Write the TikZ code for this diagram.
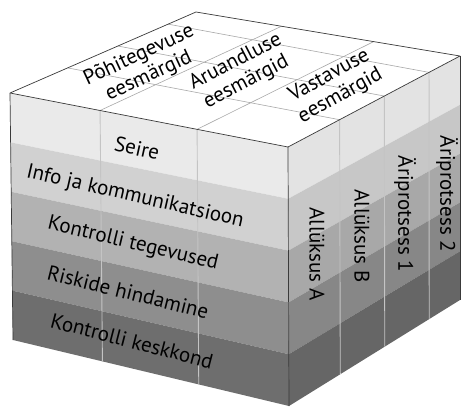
\documentclass[tikz,border=0pt]{standalone}
\usepackage{fontspec}
\setmainfont{PT Sans}
\usetikzlibrary{calc}

% band shades, lightest (top) to darkest (bottom)
\definecolor{fA}{HTML}{EAEAEA}
\definecolor{fB}{HTML}{D1D1D1}
\definecolor{fC}{HTML}{B2B2B2}
\definecolor{fD}{HTML}{8E8E8E}
\definecolor{fE}{HTML}{6E6E6E}
\definecolor{rA}{HTML}{E3E3E3}
\definecolor{rB}{HTML}{C7C7C7}
\definecolor{rC}{HTML}{A8A8A8}
\definecolor{rD}{HTML}{878787}
\definecolor{rE}{HTML}{666666}
\definecolor{edgecol}{HTML}{3A3A3A}
\definecolor{gridcol}{HTML}{A8A8A8}
\definecolor{divcol}{HTML}{C4C4C4}

\tikzset{
  cubeedge/.style={draw=edgecol, line width=0.7pt, line join=round},
  topgrid/.style={draw=gridcol, line width=0.6pt},
  facediv/.style={draw=divcol, line width=0.9pt},
  txt/.style={inner sep=0pt, font=\fontsize{21}{23}\selectfont, text=black},
  toptxt/.style={txt, align=center},
}

\begin{document}
\begin{tikzpicture}[x=1pt, y=-1pt]
\useasboundingbox (0,0) rectangle (461,407);

% cube corners
\coordinate (A) at (10,93);    % front top left
\coordinate (E) at (288,147);  % front top right
\coordinate (C) at (13,340);   % front bottom left
\coordinate (D) at (289,406);  % front bottom right
\coordinate (B) at (196,12);   % back top left
\coordinate (F) at (460,56);   % back top right
\coordinate (G) at (460,300);  % back bottom right

% top face
\fill[white] (A) -- (B) -- (F) -- (E) -- cycle;

% horizontal bands on the front and right faces
\foreach \a/\b/\fc/\rc in {0/0.2/fA/rA, 0.2/0.4/fB/rB, 0.4/0.6/fC/rC, 0.6/0.8/fD/rD, 0.8/1/fE/rE}{
  \fill[\fc] ($(A)!\a!(C)$) -- ($(E)!\a!(D)$) -- ($(E)!\b!(D)$) -- ($(A)!\b!(C)$) -- cycle;
  \fill[\rc] ($(E)!\a!(D)$) -- ($(F)!\a!(G)$) -- ($(F)!\b!(G)$) -- ($(E)!\b!(D)$) -- cycle;
}

% column dividers on the front face, continued over the top
\foreach \t in {0.324,0.673}{
  \draw[facediv] ($(A)!\t!(E)$) -- ($(C)!\t!(D)$);
  \draw[topgrid] ($(A)!\t!(E)$) -- ($(B)!\t!(F)$);
}
% column dividers on the right face, continued over the top
\foreach \s/\u in {0.30/0.31, 0.56/0.58, 0.82/0.85}{
  \draw[facediv] ($(E)!\s!(F)$) -- ($(D)!\s!(G)$);
  \draw[topgrid] ($(E)!\s!(F)$) -- ($(A)!\u!(B)$);
}

% outline
\draw[cubeedge] (A) -- (B) -- (F) -- (E) -- cycle;
\draw[cubeedge] (A) -- (C);
\draw[cubeedge] (E) -- (D);
\draw[cubeedge] (F) -- (G);

% objectives on the top face
\node[toptxt, rotate=25] (pohi) at (144,66) {Põhitegevuse\\eesmärgid};
\node[toptxt, rotate=27.5] (aru) at (241,72) {Aruandluse\\eesmärgid};
\node[toptxt, rotate=29] (vast) at (335,86) {Vastavuse\\eesmärgid};

% components on the front face
\node[txt, rotate=-12.5] (seire) at (137,148) {Seire};
\node[txt, rotate=-13] (info) at (135,197) {Info ja kommunikatsioon};
\node[txt, rotate=-13.5] (tegev) at (133,244) {Kontrolli tegevused};
\node[txt, rotate=-14] (risk) at (128,292) {Riskide hindamine};
\node[txt, rotate=-14.5] (kesk) at (132,341) {Kontrolli keskkond};

% units on the right face
\node[txt, rotate=-90] (ua) at (317,254) {Allüksus A};
\node[txt, rotate=-90] (ub) at (362,236) {Allüksus B};
\node[txt, rotate=-90] (p1) at (405,214) {Äriprotsess 1};
\node[txt, rotate=-90] (p2) at (447,194) {Äriprotsess 2};
\end{tikzpicture}
\end{document}
